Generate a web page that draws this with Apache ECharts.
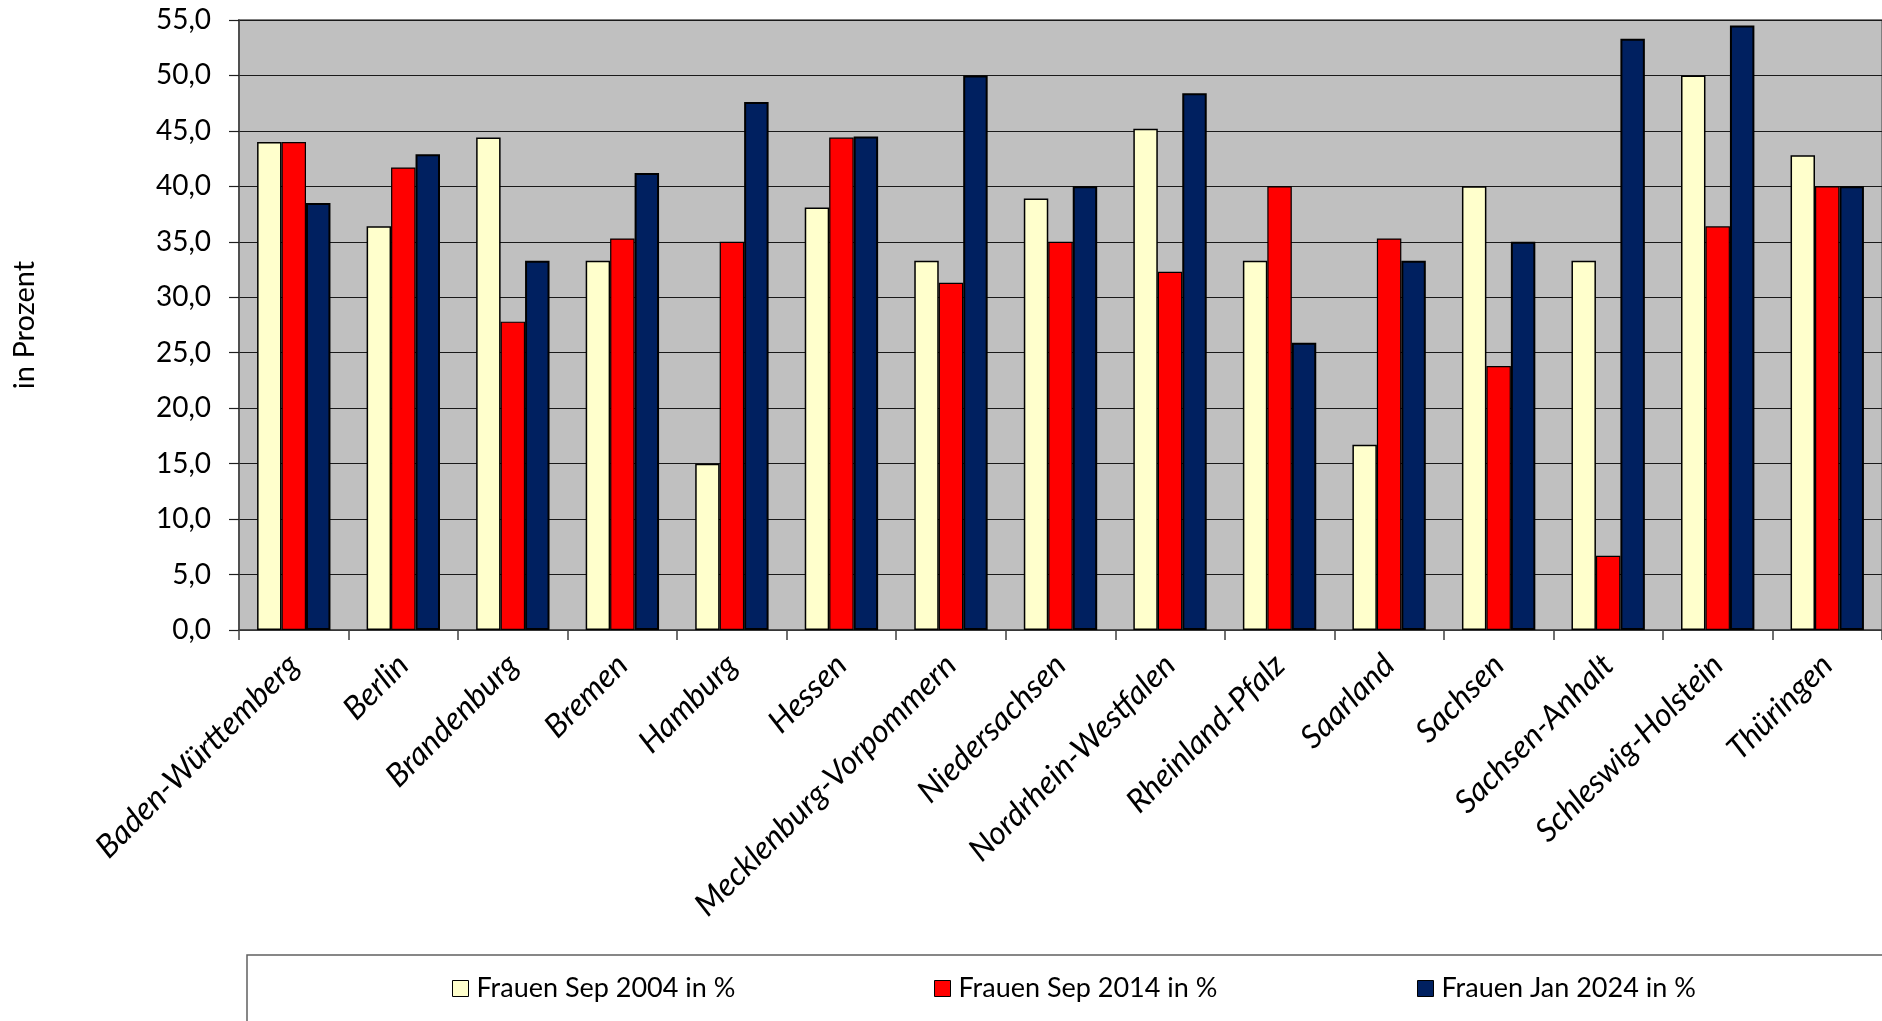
<!DOCTYPE html>
<html>
<head>
<meta charset="utf-8">
<script src="https://cdn.jsdelivr.net/npm/echarts@6/dist/echarts.min.js"></script>
<style>
html,body{margin:0;padding:0;background:#fff;}
#chart{width:1882px;height:1021px;}
</style>
</head>
<body>
<div id="chart"></div>
<script>
const categories = ["Baden-Württemberg","Berlin","Brandenburg","Bremen","Hamburg","Hessen","Mecklenburg-Vorpommern","Niedersachsen","Nordrhein-Westfalen","Rheinland-Pfalz","Saarland","Sachsen","Sachsen-Anhalt","Schleswig-Holstein","Thüringen"];
const seriesNames = ["Frauen Sep 2004 in %","Frauen Sep 2014 in %","Frauen Jan 2024 in %"];
const sep2004 = [44.0,36.4,44.4,33.3,15.0,38.1,33.3,38.9,45.2,33.3,16.7,40.0,33.3,50.0,42.8];
const sep2014 = [44.0,41.7,27.8,35.3,35.0,44.4,31.3,35.0,32.3,40.0,35.3,23.8,6.7,36.4,40.0];
const jan2024 = [38.5,42.9,33.3,41.2,47.6,44.5,50.0,40.0,48.4,25.9,33.3,35.0,53.3,54.5,40.0];
const yTicks = {min:0,max:55,interval:5};
const yTitle = "in Prozent";

const FONT = "Lato";
const colors = ["#FFFFCC","#FF0000","#002060"];
const borderW = [1.5,1.2,2];
const chart = echarts.init(document.getElementById('chart'));
const legendLefts = [452,934,1417];
chart.setOption({
  animation:false,
  textStyle:{fontFamily:FONT},
  grid:{left:239,right:0,top:20,bottom:391,show:true,backgroundColor:'#C0C0C0',borderColor:'#808080',borderWidth:2,containLabel:false},
  graphic:[{type:'rect',shape:{x:247,y:955,width:1700,height:200},style:{fill:'#fff',stroke:'#606060',lineWidth:1.5},z:-1}],
  legend: seriesNames.map((n,i)=>({
    data:[n], left:legendLefts[i], top:975, padding:0,
    itemWidth:16,itemHeight:16,icon:'rect',
    itemStyle:{borderColor:'#000',borderWidth:1},
    textStyle:{fontFamily:FONT,fontSize:27,color:'#000',padding:[0,0,0,3]},
    selectedMode:false
  })),
  xAxis:{
    type:'category',data:categories,
    axisLine:{lineStyle:{color:'#404040',width:1.5}},
    axisTick:{show:true,length:10,lineStyle:{color:'#404040',width:1.5}},
    axisLabel:{rotate:45,interval:0,fontSize:32,fontStyle:'italic',color:'#000',fontFamily:FONT,margin:30},
    splitLine:{show:false}
  },
  yAxis:{
    type:'value',min:yTicks.min,max:yTicks.max,interval:yTicks.interval,
    name:yTitle,nameLocation:'middle',nameGap:200,nameRotate:90,
    nameTextStyle:{fontFamily:FONT,fontSize:29,color:'#000'},
    axisLine:{show:true,lineStyle:{color:'#404040',width:1.5}},
    axisTick:{show:true,length:10,lineStyle:{color:'#202020',width:1.2}},
    axisLabel:{fontSize:28,color:'#000',fontFamily:FONT,margin:28,formatter:v=>v.toFixed(1).replace('.',',')},
    splitLine:{show:true,lineStyle:{color:'#1a1a1a',width:1.2}}
  },
  series:[sep2004,sep2014,jan2024].map((d,i)=>({
    name:seriesNames[i],type:'bar',data:d,
    barGap:'0%',barCategoryGap:'33%',
    itemStyle:{color:colors[i],borderColor:'#000',borderWidth:borderW[i]}
  }))
});
</script>
</body>
</html>
